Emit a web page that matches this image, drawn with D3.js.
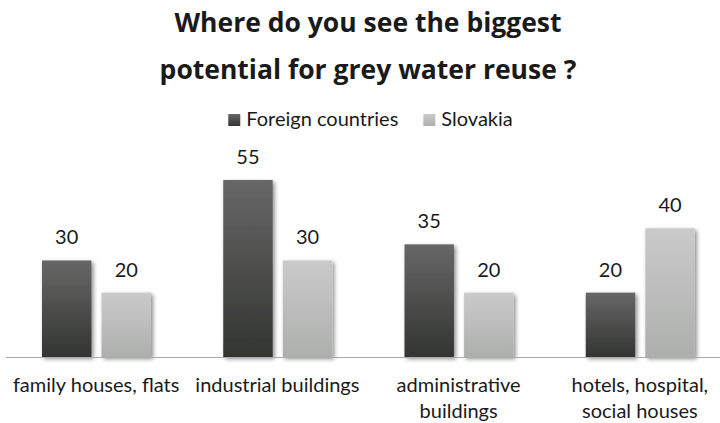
<!DOCTYPE html>
<html>
<head>
<meta charset="utf-8">
<script src="https://cdn.jsdelivr.net/npm/d3@7"></script>
<style>
  html, body { margin: 0; padding: 0; background: #fff; }
  svg { display: block; font-family: Lato, "Open Sans", sans-serif; }
</style>
</head>
<body>
<svg id="chart" width="720" height="423"></svg>
<script>
// Survey answers: where grey water reuse has the biggest potential
const categories = [
  "family houses, flats",
  "industrial buildings",
  "administrative buildings",
  "hotels, hospital, social houses"
];
const seriesNames = ["Foreign countries", "Slovakia"];
const foreignValues = [30, 55, 35, 20];
const slovakiaValues = [20, 30, 20, 40];
const titleLines = ["Where do you see the biggest", "potential for grey water reuse ?"];

const rows = categories.map((c, i) => ({
  category: c,
  values: [
    { series: seriesNames[0], value: foreignValues[i] },
    { series: seriesNames[1], value: slovakiaValues[i] }
  ]
}));

const svg = d3.select("#chart");
const W = 720, H = 423;
const baseY = 357;

// Gradients and shadow for the bars
const defs = svg.append("defs");
const grads = [
  { id: "g-dark", top: "#676767", bottom: "#333432" },
  { id: "g-light", top: "#cacaca", bottom: "#adafad" }
];
grads.forEach(g => {
  const lg = defs.append("linearGradient")
    .attr("id", g.id).attr("x1", 0).attr("y1", 0).attr("x2", 0).attr("y2", 1);
  lg.append("stop").attr("offset", "0%").attr("stop-color", g.top);
  lg.append("stop").attr("offset", "100%").attr("stop-color", g.bottom);
});
const flt = defs.append("filter").attr("id", "shadow")
  .attr("x", "-20%").attr("y", "-10%").attr("width", "150%").attr("height", "130%");
flt.append("feDropShadow")
  .attr("dx", 2).attr("dy", 2).attr("stdDeviation", 2.2)
  .attr("flood-color", "#000").attr("flood-opacity", 0.45);

const color = d3.scaleOrdinal().domain(seriesNames).range(["url(#g-dark)", "url(#g-light)"]);

// Scales
const x0 = d3.scaleBand().domain(categories).range([5.5, 730.5]).padding(0);
const x1 = d3.scaleBand().domain(seriesNames).range([36.5, 145.5]).paddingInner(0.17);
const y = d3.scaleLinear().domain([0, 60]).range([baseY, baseY - 60 * (177 / 55)]);

// Title
svg.append("g").selectAll("text").data(titleLines).join("text")
  .attr("x", 368).attr("y", (d, i) => 32 + i * 47)
  .attr("text-anchor", "middle")
  .attr("font-family", "'Open Sans', Lato, sans-serif")
  .attr("font-size", 26.5).attr("font-weight", 700).attr("fill", "#1a1a1a")
  .text(d => d);

// Legend
const legend = svg.append("g");
let lx = 0;
seriesNames.forEach((s, i) => {
  const item = legend.append("g").attr("transform", `translate(${lx},0)`);
  item.append("rect").attr("x", 0).attr("y", 114).attr("width", 12).attr("height", 12)
    .attr("fill", color(s));
  const t = item.append("text").attr("x", 18).attr("y", 126)
    .attr("font-size", 20).attr("fill", "#1a1a1a").text(s);
  lx += 18 + t.node().getComputedTextLength() + 25;
});
const lw = lx - 25;
legend.attr("transform", `translate(${370.5 - lw / 2},0)`);

// Bars
const groups = svg.append("g").selectAll("g").data(rows).join("g")
  .attr("transform", d => `translate(${x0(d.category)},0)`);

groups.selectAll("rect").data(d => d.values).join("rect")
  .attr("x", d => x1(d.series))
  .attr("y", d => y(d.value))
  .attr("width", x1.bandwidth())
  .attr("height", d => baseY - y(d.value))
  .attr("fill", d => color(d.series))
  .attr("filter", "url(#shadow)");

// Value labels
groups.selectAll("text.val").data(d => d.values).join("text")
  .attr("class", "val")
  .attr("x", d => x1(d.series) + x1.bandwidth() / 2)
  .attr("y", d => y(d.value) - 16)
  .attr("text-anchor", "middle")
  .attr("font-size", 20).attr("fill", "#1a1a1a")
  .text(d => d.value);

// Category axis line
svg.append("line")
  .attr("x1", 6).attr("x2", W).attr("y1", baseY + 0.5).attr("y2", baseY + 0.5)
  .attr("stroke", "#ababab").attr("stroke-width", 1);

// Category labels, wrapped to the band width
const xAxis = d3.axisBottom(x0).tickSize(0).tickPadding(0);
const axisG = svg.append("g").attr("transform", `translate(0,${baseY})`).call(xAxis);
axisG.select(".domain").remove();
axisG.selectAll(".tick text")
  .attr("font-family", "Lato, 'Open Sans', sans-serif")
  .attr("font-size", 20).attr("fill", "#1a1a1a")
  .each(function (d) {
    const el = d3.select(this);
    const words = d.split(" ");
    el.text(null);
    const maxW = 172;
    let lines = [], cur = [];
    const probe = el.append("tspan");
    words.forEach(w => {
      const trial = cur.concat(w).join(" ");
      probe.text(trial);
      if (probe.node().getComputedTextLength() > maxW && cur.length) {
        lines.push(cur.join(" "));
        cur = [w];
      } else cur.push(w);
    });
    lines.push(cur.join(" "));
    probe.remove();
    el.attr("y", null).attr("dy", null);
    lines.forEach((ln, i) => {
      el.append("tspan").attr("x", 0).attr("y", 35 + i * 26).text(ln);
    });
  });
</script>
</body>
</html>
